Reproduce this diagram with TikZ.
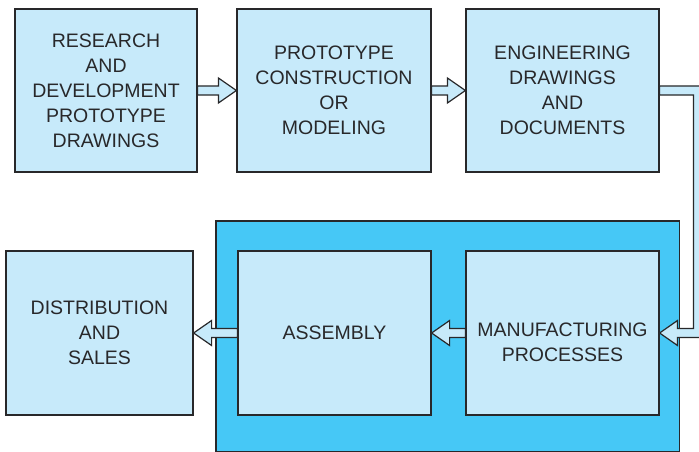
\documentclass[tikz,border=0pt]{standalone}
\usepackage{fontspec}
\setmainfont{Liberation Sans}
\usetikzlibrary{calc}
\definecolor{birumuda}{RGB}{199,234,250}
\definecolor{birutua}{RGB}{70,200,246}
\definecolor{garis}{RGB}{40,40,42}
\begin{document}
\begin{tikzpicture}[x=1pt,y=-1pt,
      teks/.style={align=center,text=garis,font=\fontsize{19.5}{25}\selectfont},
      kotak/.style={teks,draw=garis,line width=1.2pt,fill=birumuda,inner sep=0pt,
        minimum width=193pt,minimum height=164pt},
      pijl/.style={draw=garis,line width=1.2pt,fill=birumuda,line join=miter},
      panah/.style={pijl,to path={let \p1=(\tikztostart),\p2=(\tikztotarget),
        \n1={ifthenelse(\x2>\x1,1,-1)} in
        (\x1,{\y1+4.5pt}) -- ({\x2-\n1*18pt},{\y1+4.5pt}) -- ({\x2-\n1*18pt},{\y1+12.5pt})
        -- (\x2,\y1) -- ({\x2-\n1*18pt},{\y1-12.5pt}) -- ({\x2-\n1*18pt},{\y1-4.5pt})
        -- (\x1,{\y1-4.5pt}) -- cycle}}]
    \useasboundingbox (0,0) rectangle (699,452);
    % Baris atas: tahap desain
    \node[kotak,minimum width=182pt,minimum height=163pt] (riset) at (106,90.5)
      {RESEARCH\\AND\\DEVELOPMENT\\PROTOTYPE\\DRAWINGS};
    \node[kotak,minimum width=194pt,minimum height=163pt] (proto) at (334,90.5)
      {PROTOTYPE\\CONSTRUCTION\\OR\\MODELING};
    \node[kotak,minimum height=163pt] (teknik) at (562.5,90.5)
      {ENGINEERING\\DRAWINGS\\AND\\DOCUMENTS};
    % Baris bawah: blok produksi
    \draw[draw=garis,line width=1.2pt,fill=birutua] (216,221) rectangle (679.5,451.5);
    \node[kotak,minimum width=187pt] (distribusi) at (99.5,333)
      {DISTRIBUTION\\AND\\SALES};
    \node[kotak] (rakit) at (334.5,333) {ASSEMBLY};
    \node[kotak] (pabrik) at (562.5,333) {};
    \node[teks] (pabrikteks) at (562.5,342) {MANUFACTURING\\PROCESSES};
    % Panah blok
    \draw[panah] (riset.east) to (proto.west);
    \draw[panah] (proto.east) to (teknik.west);
    \draw[panah] (pabrik.west) to (rakit.east);
    \draw[panah] (rakit.west) to (distribusi.east);
    % Panah berbelok dari gambar teknik ke proses manufaktur
    \draw[pijl] ([yshift=4.5pt]teknik.east) -- (704,86) -- (704,337.5) -- (677.5,337.5)
      -- (677.5,345.5) -- (pabrik.east) -- (677.5,320.5) -- (677.5,328.5)
      -- (693.5,328.5) -- (693.5,95) -- ([yshift=-4.5pt]teknik.east) -- cycle;
  \end{tikzpicture}
\end{document}
